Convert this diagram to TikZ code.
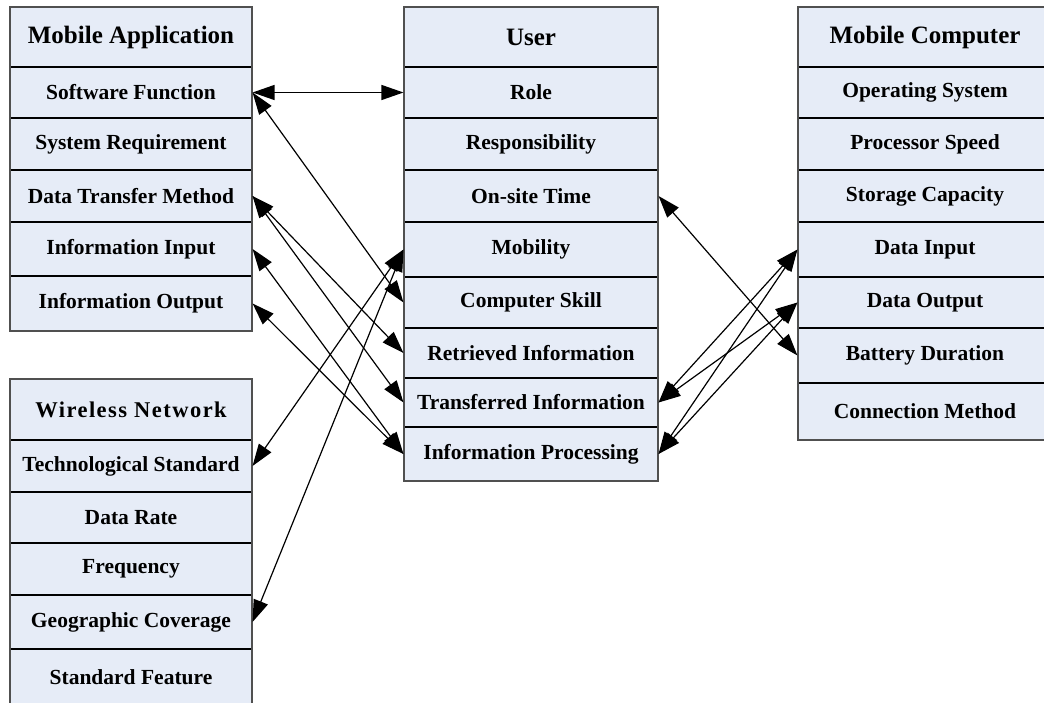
\documentclass[tikz,border=0pt]{standalone}
\usepackage{fontspec}
\setmainfont{Liberation Serif}
\usetikzlibrary{arrows.meta}
\definecolor{cellfill}{RGB}{230,236,247}
\definecolor{boxedge}{RGB}{80,80,80}
\newcommand{\mkcell}[7][]{%
  \pgfmathsetmacro{\cw}{#4-#3}\pgfmathsetmacro{\ch}{#6-#5}%
  \pgfmathsetmacro{\cx}{(#3+#4)/2}\pgfmathsetmacro{\cy}{(#5+#6)/2}%
  \node[cell,#1,minimum width=\cw pt,minimum height=\ch pt] (#2) at (\cx,\cy) {#7};}
\tikzset{
  cell/.style={draw=black,line width=1.1pt,fill=cellfill,inner sep=0pt,
    font=\fontsize{21.5}{24}\selectfont\bfseries},
  head/.style={font=\fontsize{25}{28}\selectfont\bfseries},
  outer/.style={draw=boxedge,line width=1.3pt},
  tip/.style={Triangle[length=22pt,width=15pt]},
  conn/.style={{Triangle[length=22pt,width=15pt]}-{Triangle[length=22pt,width=15pt]},line width=1.2pt,black},
}
\begin{document}
\begin{tikzpicture}[x=1pt,y=-1pt]
\clip (0,0) rectangle (1044,703);
\fill[white] (0,0) rectangle (1044,703);
% Mobile Application
\mkcell[head]{ma}{10}{252}{7}{67}{Mobile Application}
\mkcell{sf}{10}{252}{67}{118}{Software Function}
\mkcell{sr}{10}{252}{118}{170}{System Requirement}
\mkcell{dtm}{10}{252}{170}{222}{Data Transfer Method}
\mkcell{ii}{10}{252}{222}{276}{Information Input}
\mkcell{io}{10}{252}{276}{331}{Information Output}
\draw[outer] (10,7) rectangle (252,331);
% Wireless Network
\mkcell[font=\fontsize{22.5}{26}\selectfont\bfseries\addfontfeature{LetterSpace=6.5}]{wn}{10}{252}{379}{440}{Wireless Network}
\mkcell{ts}{10}{252}{440}{492}{Technological Standard}
\mkcell{dr}{10}{252}{492}{543}{Data Rate}
\mkcell{fr}{10}{252}{543}{595}{Frequency}
\mkcell{gc}{10}{252}{595}{649}{Geographic Coverage}
\mkcell{sfe}{10}{252}{649}{705}{Standard Feature}
\draw[outer] (10,379) rectangle (252,705);
% User
\mkcell[head]{us}{404}{658}{7}{67}{User}
\mkcell{role}{404}{658}{67}{118}{Role}
\mkcell{resp}{404}{658}{118}{170}{Responsibility}
\mkcell{ost}{404}{658}{170}{222}{On-site Time}
\mkcell{mob}{404}{658}{222}{277}{Mobility}
\mkcell{cs}{404}{658}{277}{328}{Computer Skill}
\mkcell{ri}{404}{658}{328}{378}{Retrieved Information}
\mkcell{ti}{404}{658}{378}{427}{Transferred Information}
\mkcell{ip}{404}{658}{427}{481}{Information Processing}
\draw[outer] (404,7) rectangle (658,481);
% Mobile Computer
\mkcell[head]{mc}{798}{1052}{7}{67}{Mobile Computer}
\mkcell{os}{798}{1052}{67}{118}{Operating System}
\mkcell{ps}{798}{1052}{118}{170}{Processor Speed}
\mkcell{sc}{798}{1052}{170}{222}{Storage Capacity}
\mkcell{di}{798}{1052}{222}{277}{Data Input}
\mkcell{do}{798}{1052}{277}{328}{Data Output}
\mkcell{bd}{798}{1052}{328}{383}{Battery Duration}
\mkcell{cm}{798}{1052}{383}{440}{Connection Method}
\draw[outer] (798,7) rectangle (1052,440);
% Connectors
\draw[conn] (sf.east) -- (role.west);
\draw[conn] (sf.east) -- (cs.west);
\draw[conn] (dtm.east) -- (ri.west);
\draw[conn] (dtm.east) -- (ti.west);
\draw[conn] (ii.east) -- (ip.west);
\draw[conn] (io.east) -- (ip.west);
\draw[conn] (mob.west) -- (ts.east);
\draw[conn] (mob.west) -- (gc.east);
\draw[conn] (ost.east) -- (bd.west);
\draw[conn] (di.west) -- (ti.east);
\draw[conn] (di.west) -- (ip.east);
\draw[conn] (do.west) -- (ti.east);
\draw[conn] (do.west) -- (ip.east);
\end{tikzpicture}
\end{document}
